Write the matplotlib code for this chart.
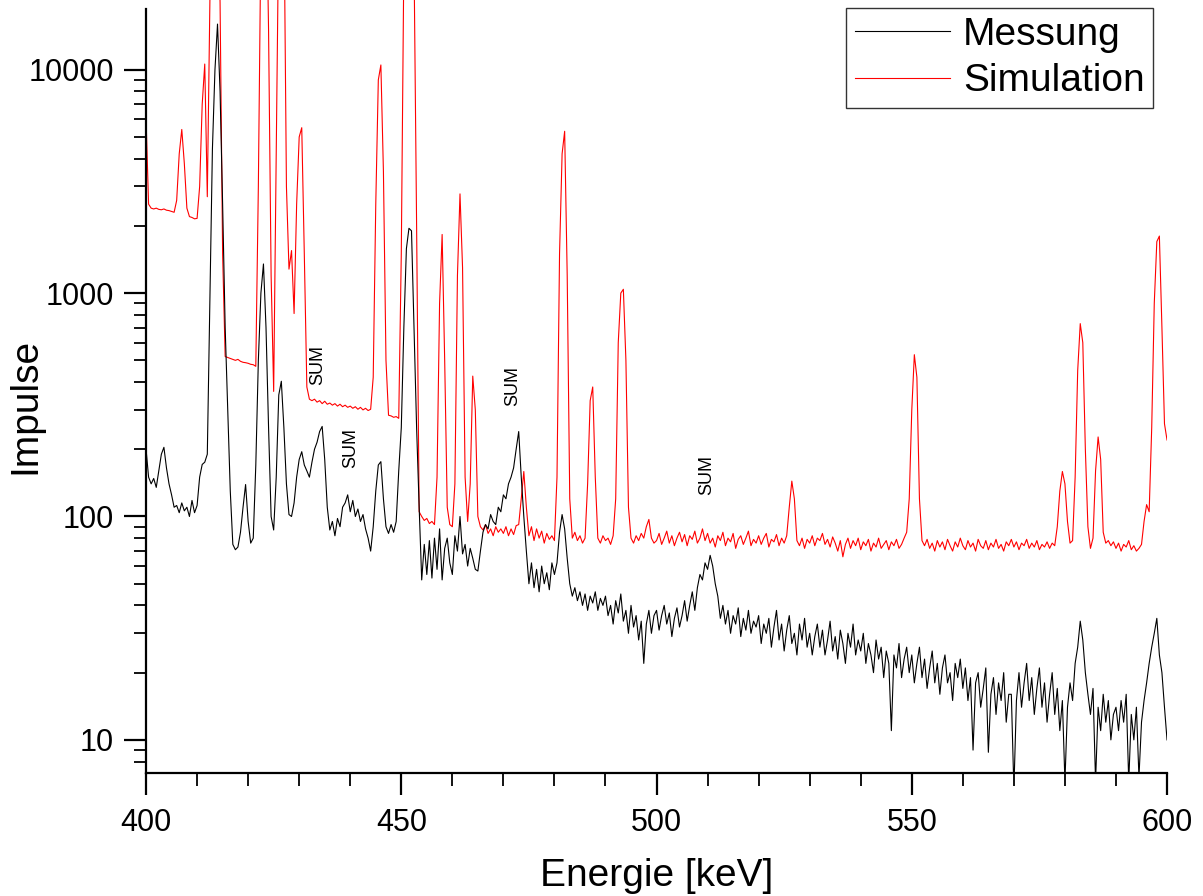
"""Gamma spectrum 400-600 keV: measurement vs. simulation, log counts."""

import matplotlib

matplotlib.use("Agg")
import matplotlib.pyplot as plt
import numpy as np
from matplotlib.patches import Rectangle
from matplotlib.ticker import FuncFormatter, LogLocator, MultipleLocator, NullFormatter

plt.rcParams["font.family"] = ["Liberation Sans", "DejaVu Sans"]

# channel grid, 0.5 keV steps from 400 to 600 keV
energy = np.linspace(400, 600, 401)

# Messung (black), one row = 10 keV
messung = [
    200, 150, 140, 148, 135, 160, 190, 204, 165, 140, 125, 110, 112, 104, 115, 106, 110, 100, 118, 104,  # 400
    112, 150, 171, 175, 190, 900, 4400, 10000, 16000, 8000, 2500, 700, 300, 130, 75, 71, 73, 85, 110, 139,  # 410
    95, 76, 80, 170, 500, 1000, 1350, 700, 250, 100, 87, 150, 350, 403, 250, 140, 102, 100, 115, 150,  # 420
    180, 195, 170, 160, 150, 175, 200, 215, 240, 253, 180, 110, 87, 95, 82, 98, 90, 110, 115, 125,  # 430
    105, 118, 100, 108, 95, 102, 88, 80, 70, 90, 130, 170, 176, 120, 90, 84, 92, 85, 95, 160,  # 440
    250, 700, 1580, 1950, 1900, 700, 250, 110, 52, 75, 55, 78, 53, 80, 58, 88, 52, 72, 80, 62,  # 450
    55, 82, 70, 100, 68, 75, 60, 72, 65, 58, 57, 70, 85, 92, 88, 102, 95, 92, 110, 105,  # 460
    125, 120, 140, 150, 165, 200, 240, 150, 100, 70, 50, 62, 48, 58, 46, 60, 50, 56, 47, 62,  # 470
    55, 62, 85, 102, 88, 65, 50, 44, 48, 42, 46, 40, 45, 38, 44, 41, 46, 38, 43, 40,  # 480
    44, 36, 40, 33, 42, 37, 45, 34, 38, 30, 40, 32, 36, 28, 34, 22, 33, 38, 30, 36,  # 490
    38, 31, 36, 40, 33, 37, 29, 35, 39, 32, 36, 42, 34, 40, 46, 38, 48, 55, 52, 62,  # 500
    58, 67, 60, 50, 44, 35, 40, 33, 38, 30, 36, 33, 39, 29, 35, 31, 38, 30, 34, 32,  # 510
    36, 27, 33, 30, 35, 26, 32, 38, 28, 33, 25, 31, 36, 27, 30, 24, 33, 28, 35, 26,  # 520
    30, 24, 29, 33, 26, 31, 24, 28, 34, 25, 29, 23, 31, 27, 22, 30, 26, 33, 24, 28,  # 530
    25, 30, 22, 27, 24, 20, 28, 23, 26, 19, 25, 22, 11, 24, 21, 27, 19, 23, 26, 20,  # 540
    24, 18, 22, 26, 19, 23, 17, 21, 25, 18, 22, 16, 21, 24, 18, 20, 15, 22, 19, 23,  # 550
    17, 21, 15, 19, 9.0, 18, 20, 14, 17, 21, 8.8, 16, 19, 13, 18, 15, 20, 12, 16, 16,  # 560
    6.0, 15, 20, 14, 18, 22, 15, 19, 13, 17, 21, 14, 18, 12, 16, 20, 13, 17, 11, 15,  # 570
    6.5, 14, 18, 15, 22, 26, 34, 28, 20, 16, 13, 17, 6.5, 14, 11, 16, 12, 15, 10, 13,  # 580
    14, 11, 15, 12, 16, 6.5, 13, 10, 14, 6.8, 12, 15, 18, 22, 26, 30, 35, 24, 20, 14,  # 590
    10,  # 600
]

# Simulation (red); values above the top of the axis are clipped
simulation = [
    6000, 2500, 2400, 2380, 2400, 2370, 2360, 2380, 2350, 2340, 2320, 2300, 2600, 4200, 5400, 3800, 2400, 2200, 2180, 2150,  # 400
    2160, 3000, 7000, 10600, 2700, 20000, 80000, 100000, 80000, 20000, 1500, 520, 515, 510, 505, 500, 505, 495, 490, 488,  # 410
    485, 480, 478, 470, 3000, 40000, 100000, 80000, 15000, 1200, 363, 4000, 50000, 100000, 60000, 3000, 1280, 1550, 810, 2500,  # 420
    5000, 5500, 1500, 380, 335, 330, 335, 325, 330, 320, 328, 318, 322, 315, 320, 312, 318, 310, 315, 308,  # 430
    312, 305, 310, 302, 308, 300, 305, 298, 302, 420, 2500, 9000, 10500, 3500, 500, 284, 282, 278, 280, 275,  # 440
    1500, 30000, 100000, 100000, 100000, 30000, 2000, 105, 100, 96, 98, 93, 95, 92, 150, 900, 1830, 500, 110, 92,  # 450
    90, 140, 1200, 2780, 1300, 150, 95, 140, 425, 300, 100, 90, 87, 92, 84, 88, 82, 90, 85, 88,  # 460
    84, 90, 82, 88, 83, 91, 92, 120, 159, 110, 82, 90, 78, 88, 80, 86, 76, 84, 79, 82,  # 470
    78, 150, 1500, 4200, 5300, 1200, 120, 80, 85, 78, 82, 76, 80, 140, 330, 380, 150, 80, 76, 82,  # 480
    78, 80, 75, 82, 120, 600, 1000, 1040, 500, 110, 80, 76, 82, 78, 84, 80, 90, 97, 80, 76,  # 490
    78, 84, 75, 80, 86, 76, 82, 74, 80, 85, 77, 83, 74, 82, 79, 86, 76, 80, 88, 78,  # 500
    84, 76, 80, 73, 82, 78, 85, 74, 80, 77, 84, 72, 79, 82, 75, 80, 86, 74, 79, 76,  # 510
    82, 75, 80, 84, 73, 79, 77, 83, 74, 80, 76, 82, 110, 144, 120, 78, 74, 80, 72, 79,  # 520
    76, 82, 74, 80, 78, 84, 75, 79, 73, 81, 76, 70, 78, 66, 75, 80, 72, 78, 74, 80,  # 530
    71, 77, 74, 79, 70, 76, 73, 80, 72, 75, 78, 71, 77, 74, 79, 72, 75, 80, 85, 120,  # 540
    300, 530, 420, 120, 78, 74, 79, 72, 76, 70, 78, 73, 77, 71, 79, 74, 70, 77, 73, 80,  # 550
    74, 71, 78, 73, 76, 70, 79, 74, 72, 78, 71, 76, 73, 79, 72, 75, 70, 77, 74, 79,  # 560
    73, 77, 71, 76, 74, 79, 72, 76, 73, 78, 71, 75, 73, 77, 72, 76, 74, 90, 130, 159,  # 570
    140, 95, 76, 78, 150, 450, 730, 600, 200, 90, 72, 80, 160, 227, 180, 85, 76, 78, 74, 77,  # 580
    72, 76, 70, 75, 73, 78, 71, 74, 70, 72, 75, 95, 113, 105, 250, 900, 1700, 1800, 700, 260,  # 590
    220,  # 600
]

# "SUM" annotations (centre of the rotated text)
sum_energy = [433.6, 440.0, 471.9, 509.8]
sum_counts = [475, 202, 382, 153]

assert len(messung) == len(energy) and len(simulation) == len(energy)

fig = plt.figure(figsize=(12.03, 8.96), dpi=100)
ax = fig.add_axes([0.1214, 0.1373, 0.8487, 0.8527])

(line_sim,) = ax.plot(energy, simulation, color="#ff0000", lw=0.8, label="Simulation")
(line_mes,) = ax.plot(energy, messung, color="black", lw=0.8, label="Messung")

ax.set_yscale("log")
ax.set_xlim(400, 600)
# top of the axes sits ~9 px below the figure edge; the tall peaks run past it,
# but dips are still cut at the x axis
ax.set_ylim(7.11, 18700)
clip = Rectangle((0, 0), 1, 1.2, transform=ax.transAxes)
for line in (line_sim, line_mes):
    line.set_clip_path(clip)

for e, c in zip(sum_energy, sum_counts):
    ax.text(e, c, "SUM", rotation=90, ha="center", va="center", fontsize=13)

ax.spines["top"].set_visible(False)
ax.spines["right"].set_visible(False)
for side in ("left", "bottom"):
    ax.spines[side].set_linewidth(1.6)

ax.xaxis.set_major_locator(MultipleLocator(50))
ax.xaxis.set_minor_locator(MultipleLocator(10))
ax.yaxis.set_major_locator(LogLocator(base=10))
ax.yaxis.set_minor_locator(LogLocator(base=10, subs=np.arange(2, 10)))
ax.yaxis.set_major_formatter(FuncFormatter(lambda v, _: f"{v:.0f}"))
ax.yaxis.set_minor_formatter(NullFormatter())
ax.tick_params(which="major", direction="out", length=16, width=1.6, labelsize=22, pad=7)
ax.tick_params(which="minor", direction="out", length=9, width=1.3)
ax.tick_params(axis="x", which="major", pad=9)

ax.set_xlabel("Energie [keV]", fontsize=28, va="center")
ax.xaxis.set_label_coords(0.5, -0.1345)
ax.set_ylabel("Impulse", fontsize=28, va="center")
ax.yaxis.set_label_coords(-0.1185, 0.48)

leg = ax.legend(
    [line_mes, line_sim],
    ["Messung", "Simulation"],
    loc="upper right",
    bbox_to_anchor=(1153 / 1203, 1 - 8 / 896),
    bbox_transform=fig.transFigure,
    borderaxespad=0,
    fontsize=28,
    frameon=True,
    fancybox=False,
    handlelength=2.45,
    handletextpad=0.33,
    borderpad=0.22,
    labelspacing=0.28,
)
leg.get_frame().set_edgecolor("black")
leg.get_frame().set_linewidth(1.0)

fig.savefig("out.png", dpi=100)
